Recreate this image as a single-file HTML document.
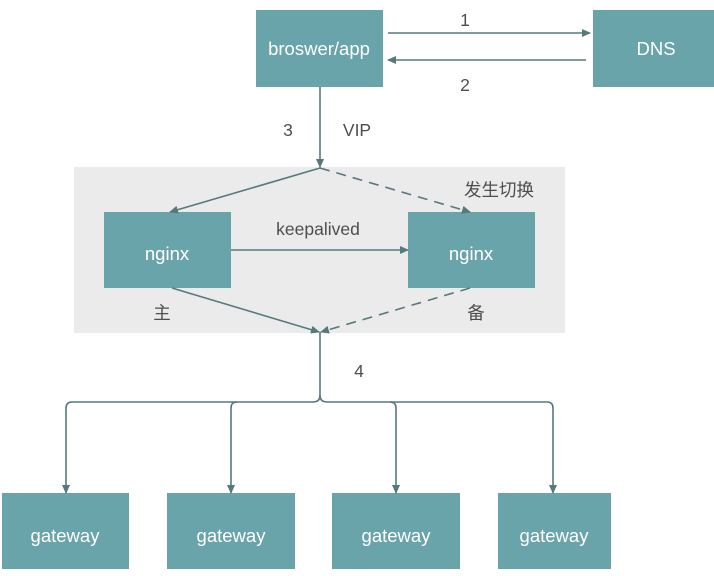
<!DOCTYPE html>
<html><head><meta charset="utf-8"><style>
html,body{margin:0;padding:0;background:#fff;width:714px;height:576px;overflow:hidden}
svg{display:block}
text{font-family:"Liberation Sans","Noto Sans CJK SC",sans-serif;font-size:17.5px}
.b{fill:#69a4aa}
.w{fill:#fff;text-anchor:middle;font-size:18.5px}
.l{fill:#4e4e4e;text-anchor:middle}
.ln{stroke:#56797e;stroke-width:1.6;fill:none}
.d{stroke-dasharray:10 7}
</style></head><body>
<svg width="714" height="576" viewBox="0 0 714 576">
<defs><marker id="a" markerWidth="10" markerHeight="10" refX="8" refY="4" orient="auto" markerUnits="userSpaceOnUse"><path d="M0,0 L9,4 L0,8 Z" fill="#56797e"/></marker></defs>
<rect x="74" y="167" width="491" height="166" fill="#ebebeb"/>
<rect class="b" x="256" y="10" width="127" height="77"/>
<rect class="b" x="593" y="10" width="121" height="77"/>
<rect class="b" x="104" y="212" width="127" height="76"/>
<rect class="b" x="408" y="212" width="127" height="76"/>
<rect class="b" x="2" y="493" width="127" height="76"/>
<rect class="b" x="167" y="493" width="128" height="76"/>
<rect class="b" x="332" y="493" width="128" height="76"/>
<rect class="b" x="498" y="493" width="113" height="76"/>
<text class="w" x="319" y="55">broswer/app</text>
<text class="w" x="656" y="55">DNS</text>
<text class="w" x="167" y="260">nginx</text>
<text class="w" x="471" y="260">nginx</text>
<text class="w" x="65" y="542">gateway</text>
<text class="w" x="231" y="542">gateway</text>
<text class="w" x="396" y="542">gateway</text>
<text class="w" x="554" y="542">gateway</text>
<path class="ln" d="M388,33 L590,33" marker-end="url(#a)"/>
<path class="ln" d="M586,60 L388,60" marker-end="url(#a)"/>
<text class="l" x="465" y="26">1</text>
<text class="l" x="465" y="91">2</text>
<path class="ln" d="M320,87 L320,167" marker-end="url(#a)"/>
<text class="l" x="288" y="136">3</text>
<text class="l" x="357" y="136">VIP</text>
<path class="ln" d="M320,168 L170,212" marker-end="url(#a)"/>
<path class="ln d" d="M320,168 L470,212" marker-end="url(#a)"/>
<text class="l" x="499" y="196">发生切换</text>
<path class="ln" d="M231,250 L408,250" marker-end="url(#a)"/>
<text class="l" x="318" y="235">keepalived</text>
<path class="ln" d="M172,288 L319,332" marker-end="url(#a)"/>
<path class="ln d" d="M470,288 L321,332" marker-end="url(#a)"/>
<text class="l" x="162" y="319">主</text>
<text class="l" x="476" y="319">备</text>
<path class="ln" d="M320,332 L320,395 Q320,402 313,402 L72,402 Q66,402 66,408 L66,493" marker-end="url(#a)"/>
<path class="ln" d="M237,402 Q231,402 231,408 L231,493" marker-end="url(#a)"/>
<path class="ln" d="M320,395 Q320,402 327,402 L547,402 Q553,402 553,408 L553,493" marker-end="url(#a)"/>
<path class="ln" d="M390,402 Q396,402 396,408 L396,493" marker-end="url(#a)"/>
<text class="l" x="359" y="377">4</text>
</svg>
</body></html>
